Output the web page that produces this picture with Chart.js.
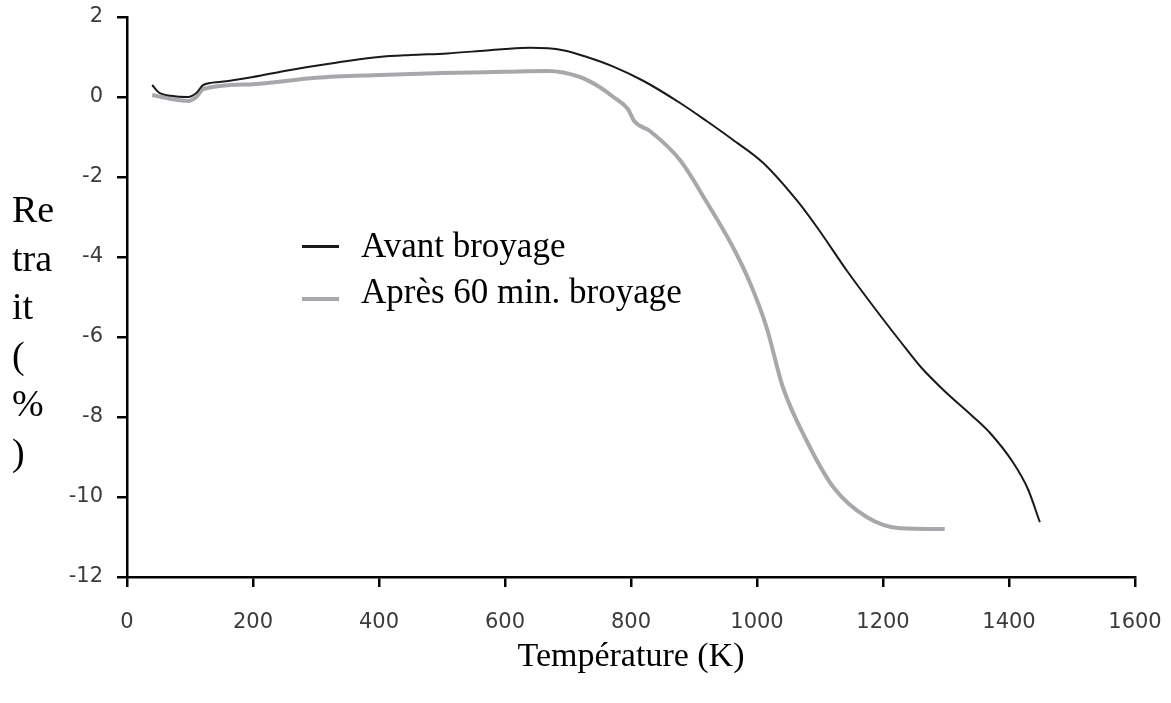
<!DOCTYPE html>
<html lang="fr">
<head>
    <meta charset="UTF-8">
    <title>Retrait en fonction de la température</title>
    <script src="https://cdn.jsdelivr.net/npm/chart.js"></script>
    <style>
        html, body { margin: 0; padding: 0; background: #fff; }
        #wrap { position: relative; width: 1171px; height: 703px; }
        canvas { position: absolute; left: 0; top: 0; }
        .serif { font-family: "Liberation Serif", "Times New Roman", serif; color: #000; position: absolute; white-space: nowrap; }
        #ytitle { left: 12px; top: 185px; font-size: 38px; line-height: 48.5px; }
        .leg { font-size: 35px; line-height: 40px; left: 361px; }
        .sw { position: absolute; left: 302px; width: 37px; }
    </style>
</head>
<body>
<div id="wrap">
    <canvas id="chart" width="1171" height="703"></canvas>
    <div id="ytitle" class="serif">Re<br>tra<br>it<br>(<br>%<br>)</div>
    <div class="sw" style="top:245px;height:3px;background:#1a1a1a"></div>
    <div class="serif leg" style="top:226px">Avant broyage</div>
    <div class="sw" style="top:297px;height:4px;background:#a8a8ac"></div>
    <div class="serif leg" style="top:272px">Après 60 min. broyage</div>
</div>
<script>
    // courbe "Avant broyage"
    const tempAvant = [40, 50, 70, 97, 110, 121, 150, 200, 250, 300, 350, 400, 450, 508, 560, 600, 640, 692, 730, 772, 820, 878, 920, 960, 1010, 1063, 1095, 1143, 1195, 1227, 1260, 1301, 1340, 1370, 1407, 1430, 1449];
    const retraitAvant = [0.3, 0.12, 0.03, 0.0, 0.1, 0.3, 0.38, 0.5, 0.65, 0.78, 0.9, 1.0, 1.05, 1.09, 1.15, 1.2, 1.23, 1.17, 1.0, 0.76, 0.4, -0.15, -0.6, -1.05, -1.65, -2.58, -3.25, -4.35, -5.45, -6.1, -6.75, -7.4, -7.95, -8.4, -9.15, -9.8, -10.63];

    // courbe "Après 60 min. broyage"
    const tempApres = [40, 70, 97, 110, 121, 200, 300, 402, 500, 600, 667, 719, 750, 772, 795, 800, 805, 830, 878, 921, 960, 989, 1015, 1041, 1079, 1121, 1174, 1227, 1298];
    const retraitApres = [0.05, -0.05, -0.1, 0.0, 0.2, 0.32, 0.48, 0.55, 0.6, 0.63, 0.65, 0.5, 0.25, 0.0, -0.3, -0.45, -0.6, -0.85, -1.58, -2.65, -3.7, -4.65, -5.75, -7.25, -8.6, -9.75, -10.5, -10.78, -10.8];

    const xTicks = [0, 200, 400, 600, 800, 1000, 1200, 1400, 1600];
    const yTicks = [2, 0, -2, -4, -6, -8, -10, -12];

    const toPoints = (xs, ys) => xs.map((x, i) => ({ x: x, y: ys[i] }));
    const tickFont = { family: '"DejaVu Sans", sans-serif', size: 21 };

    new Chart(document.getElementById('chart'), {
        type: 'line',
        data: {
            datasets: [
                {
                    label: 'Avant broyage',
                    data: toPoints(tempAvant, retraitAvant),
                    borderColor: '#1a1a1a',
                    borderWidth: 2,
                    pointRadius: 0,
                    cubicInterpolationMode: 'monotone',
                    fill: false
                },
                {
                    label: 'Après 60 min. broyage',
                    data: toPoints(tempApres, retraitApres),
                    borderColor: '#a8a8ac',
                    borderWidth: 4,
                    pointRadius: 0,
                    cubicInterpolationMode: 'monotone',
                    fill: false
                }
            ]
        },
        options: {
            responsive: false,
            animation: false,
            layout: { padding: { top: 17, right: 36, left: 0, bottom: 0 } },
            plugins: { legend: { display: false }, tooltip: { enabled: false } },
            scales: {
                x: {
                    type: 'linear',
                    min: 0, max: 1600,
                    afterBuildTicks: s => { s.ticks = xTicks.map(v => ({ value: v })); },
                    afterFit: s => { s.height = 126; s.paddingLeft = 0; s.paddingRight = 0; },
                    grid: { drawOnChartArea: false, drawTicks: true, tickLength: 10, color: '#000', lineWidth: 2.5 },
                    border: { color: '#000', width: 2.5 },
                    ticks: { font: tickFont, color: '#3b3b3b', padding: 23, maxRotation: 0, callback: v => String(v) },
                    title: {
                        display: true,
                        text: 'Température (K)',
                        font: { family: '"Liberation Serif", serif', size: 34 },
                        color: '#000',
                        padding: { top: 0, bottom: 26 }
                    }
                },
                y: {
                    min: -12, max: 2,
                    afterBuildTicks: s => { s.ticks = yTicks.map(v => ({ value: v })); },
                    afterFit: s => { s.width = 127; s.paddingTop = 0; s.paddingBottom = 0; },
                    grid: { drawOnChartArea: false, drawTicks: true, tickLength: 10, color: '#000', lineWidth: 2.5 },
                    border: { color: '#000', width: 2.5 },
                    ticks: { font: tickFont, color: '#3b3b3b', padding: 14, callback: v => String(v) }
                }
            }
        }
    });
</script>
</body>
</html>
